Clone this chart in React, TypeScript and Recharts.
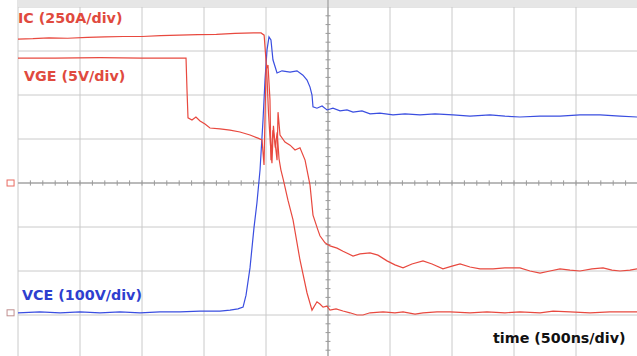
import { CartesianGrid, Customized, Line, LineChart, ReferenceArea, ReferenceDot, ReferenceLine, XAxis, YAxis } from "recharts";

// time in ns (500 ns/div), values in screen divisions (0 = centre line)
const icTime = [0, 120, 250, 400, 560, 700, 850, 1000, 1150, 1300, 1450, 1600, 1750, 1900, 1960, 1985, 2005, 2020, 2035, 2048, 2060, 2075, 2090, 2105, 2120, 2140, 2177, 2218, 2274, 2331, 2371, 2411, 2435, 2460, 2492, 2516, 2565, 2621, 2677, 2734, 2782, 2839, 2944, 3040, 3105, 3202, 3266, 3379, 3484, 3645, 3782, 3927, 4048, 4210, 4315, 4452, 4613, 4774, 4992];
const icDiv = [3.27, 3.28, 3.3, 3.29, 3.31, 3.32, 3.33, 3.33, 3.35, 3.36, 3.37, 3.38, 3.4, 3.41, 3.41, 3.36, 2.6, 1.6, 0.9, 0.45, 1.3, 0.8, 1.15, 0.55, 0.3, 0.07, -0.39, -0.84, -1.75, -2.5, -2.89, -2.7, -2.75, -2.82, -2.8, -2.89, -2.86, -2.91, -2.95, -3.0, -3.0, -2.95, -2.93, -2.95, -2.93, -2.98, -2.95, -2.93, -2.93, -2.95, -2.93, -2.95, -2.93, -2.95, -2.91, -2.93, -2.95, -2.93, -2.93];

const vgeTime = [0, 300, 661, 1000, 1355, 1363, 1371, 1403, 1435, 1468, 1508, 1548, 1629, 1710, 1790, 1871, 1935, 1968, 1984, 2000, 2016, 2032, 2040, 2056, 2073, 2089, 2097, 2113, 2153, 2194, 2234, 2274, 2315, 2355, 2379, 2419, 2435, 2476, 2516, 2573, 2621, 2702, 2758, 2839, 2903, 2976, 3040, 3105, 3177, 3266, 3339, 3427, 3500, 3565, 3645, 3726, 3831, 3927, 4048, 4129, 4210, 4290, 4371, 4452, 4532, 4629, 4718, 4790, 4855, 4935, 4992];
const vgeDiv = [2.84, 2.84, 2.85, 2.84, 2.84, 2.11, 1.48, 1.43, 1.5, 1.41, 1.34, 1.25, 1.23, 1.2, 1.16, 1.09, 1.02, 0.98, 0.41, 2.57, 2.68, 1.89, 0.52, 1.2, 0.93, 0.52, 1.61, 1.09, 0.93, 0.86, 0.75, 0.8, 0.52, -0.05, -0.73, -1.07, -1.2, -1.36, -1.43, -1.48, -1.55, -1.66, -1.61, -1.59, -1.64, -1.77, -1.86, -1.93, -1.84, -1.77, -1.84, -1.95, -1.89, -1.84, -1.91, -1.95, -1.95, -1.93, -1.93, -2.0, -2.05, -2.0, -1.95, -1.98, -2.0, -1.95, -1.93, -1.98, -2.0, -1.98, -1.95];

const vceTime = [0, 177, 339, 500, 661, 823, 984, 1145, 1306, 1468, 1629, 1710, 1774, 1815, 1839, 1871, 1903, 1927, 1952, 1976, 1992, 2008, 2024, 2040, 2056, 2089, 2129, 2194, 2250, 2298, 2331, 2355, 2371, 2379, 2411, 2452, 2492, 2540, 2597, 2653, 2702, 2774, 2839, 2919, 3024, 3121, 3242, 3363, 3508, 3645, 3806, 3927, 4048, 4210, 4371, 4532, 4694, 4855, 4992];
const vceDiv = [-2.95, -2.93, -2.95, -2.93, -2.95, -2.93, -2.95, -2.93, -2.93, -2.91, -2.91, -2.89, -2.86, -2.82, -2.55, -1.93, -1.02, -0.45, 0.3, 1.43, 2.34, 3.02, 3.32, 3.25, 2.8, 2.5, 2.55, 2.52, 2.55, 2.45, 2.34, 2.18, 2.0, 1.73, 1.7, 1.75, 1.66, 1.7, 1.64, 1.66, 1.61, 1.64, 1.57, 1.59, 1.55, 1.57, 1.55, 1.57, 1.55, 1.52, 1.55, 1.52, 1.5, 1.52, 1.52, 1.55, 1.55, 1.52, 1.5];

const xTicks = [0, 500, 1000, 1500, 2000, 2500, 3000, 3500, 4000, 4500, 5000];
const yTicks = [-3, -2, -1, 0, 1, 2, 3, 4];
const xMinor = Array.from({ length: 49 }, (_, i) => (i + 1) * 100);
const yMinor = Array.from({ length: 39 }, (_, i) => -3.8 + i * 0.2);

const zip = (t: number[], v: number[]) => t.map((x, i) => ({ t: x, v: v[i] }));
const icData = zip(icTime, icDiv);
const vgeData = zip(vgeTime, vgeDiv);
const vceData = zip(vceTime, vceDiv);

const RED = "#e8493f";
const BLUE = "#3a4ee0";
const Y_MAX = 183 / 44;
const Y_MIN = (183 - 356) / 44;

const labels = () => (
  <g fontFamily="DejaVu Sans" fontWeight="bold" fontSize={14.3}>
    <text x={18} y={23} fill="#e04a3e">IC (250A/div)</text>
    <text x={24} y={81} fill="#e04a3e">VGE (5V/div)</text>
    <text x={22} y={300} fill="#2e3fcf">VCE (100V/div)</text>
    <text x={493} y={343} fill="#111">time (500ns/div)</text>
  </g>
);

const marker = (color: string) => (props: any) => (
  <rect x={props.cx - 4} y={props.cy - 3} width={7} height={6} fill="none" stroke={color} strokeWidth={1} />
);

export default function App() {
  return (
    <div style={{ position: "absolute", left: 0, top: 0, width: 637, height: 356, overflow: "hidden", background: "#fff" }}>
      <LineChart width={638} height={356} margin={{ top: 0, right: 0, bottom: 0, left: 18 }}>
        <XAxis type="number" dataKey="t" domain={[0, 5000]} ticks={xTicks} hide allowDataOverflow />
        <YAxis type="number" domain={[Y_MIN, Y_MAX]} ticks={yTicks} hide allowDataOverflow />
        <ReferenceArea y1={4} y2={Y_MAX} fill="#e6e6e6" fillOpacity={1} stroke="none" />
        <CartesianGrid stroke="#cacaca" verticalValues={xTicks} horizontalValues={yTicks} />
        <ReferenceLine x={2500} stroke="#8f8f8f" />
        <ReferenceLine y={0} stroke="#8f8f8f" />
        {xMinor.map((x) => (
          <ReferenceLine key={"xm" + x} segment={[{ x, y: -0.06 }, { x, y: 0.06 }]} stroke="#9a9a9a" />
        ))}
        {yMinor.map((y) => (
          <ReferenceLine key={"ym" + y} segment={[{ x: 2480, y }, { x: 2520, y }]} stroke="#9a9a9a" />
        ))}
        <ReferenceDot x={-56} y={0} ifOverflow="visible" shape={marker("#e86a60")} />
        <ReferenceDot x={-56} y={-2.95} ifOverflow="visible" shape={marker("#c09090")} />
        <Line data={vceData} dataKey="v" type="linear" stroke={BLUE} strokeWidth={1.2} dot={false} isAnimationActive={false} />
        <Line data={icData} dataKey="v" type="linear" stroke={RED} strokeWidth={1.2} dot={false} isAnimationActive={false} />
        <Line data={vgeData} dataKey="v" type="linear" stroke={RED} strokeWidth={1.2} dot={false} isAnimationActive={false} />
        <Customized component={labels} />
      </LineChart>
    </div>
  );
}
